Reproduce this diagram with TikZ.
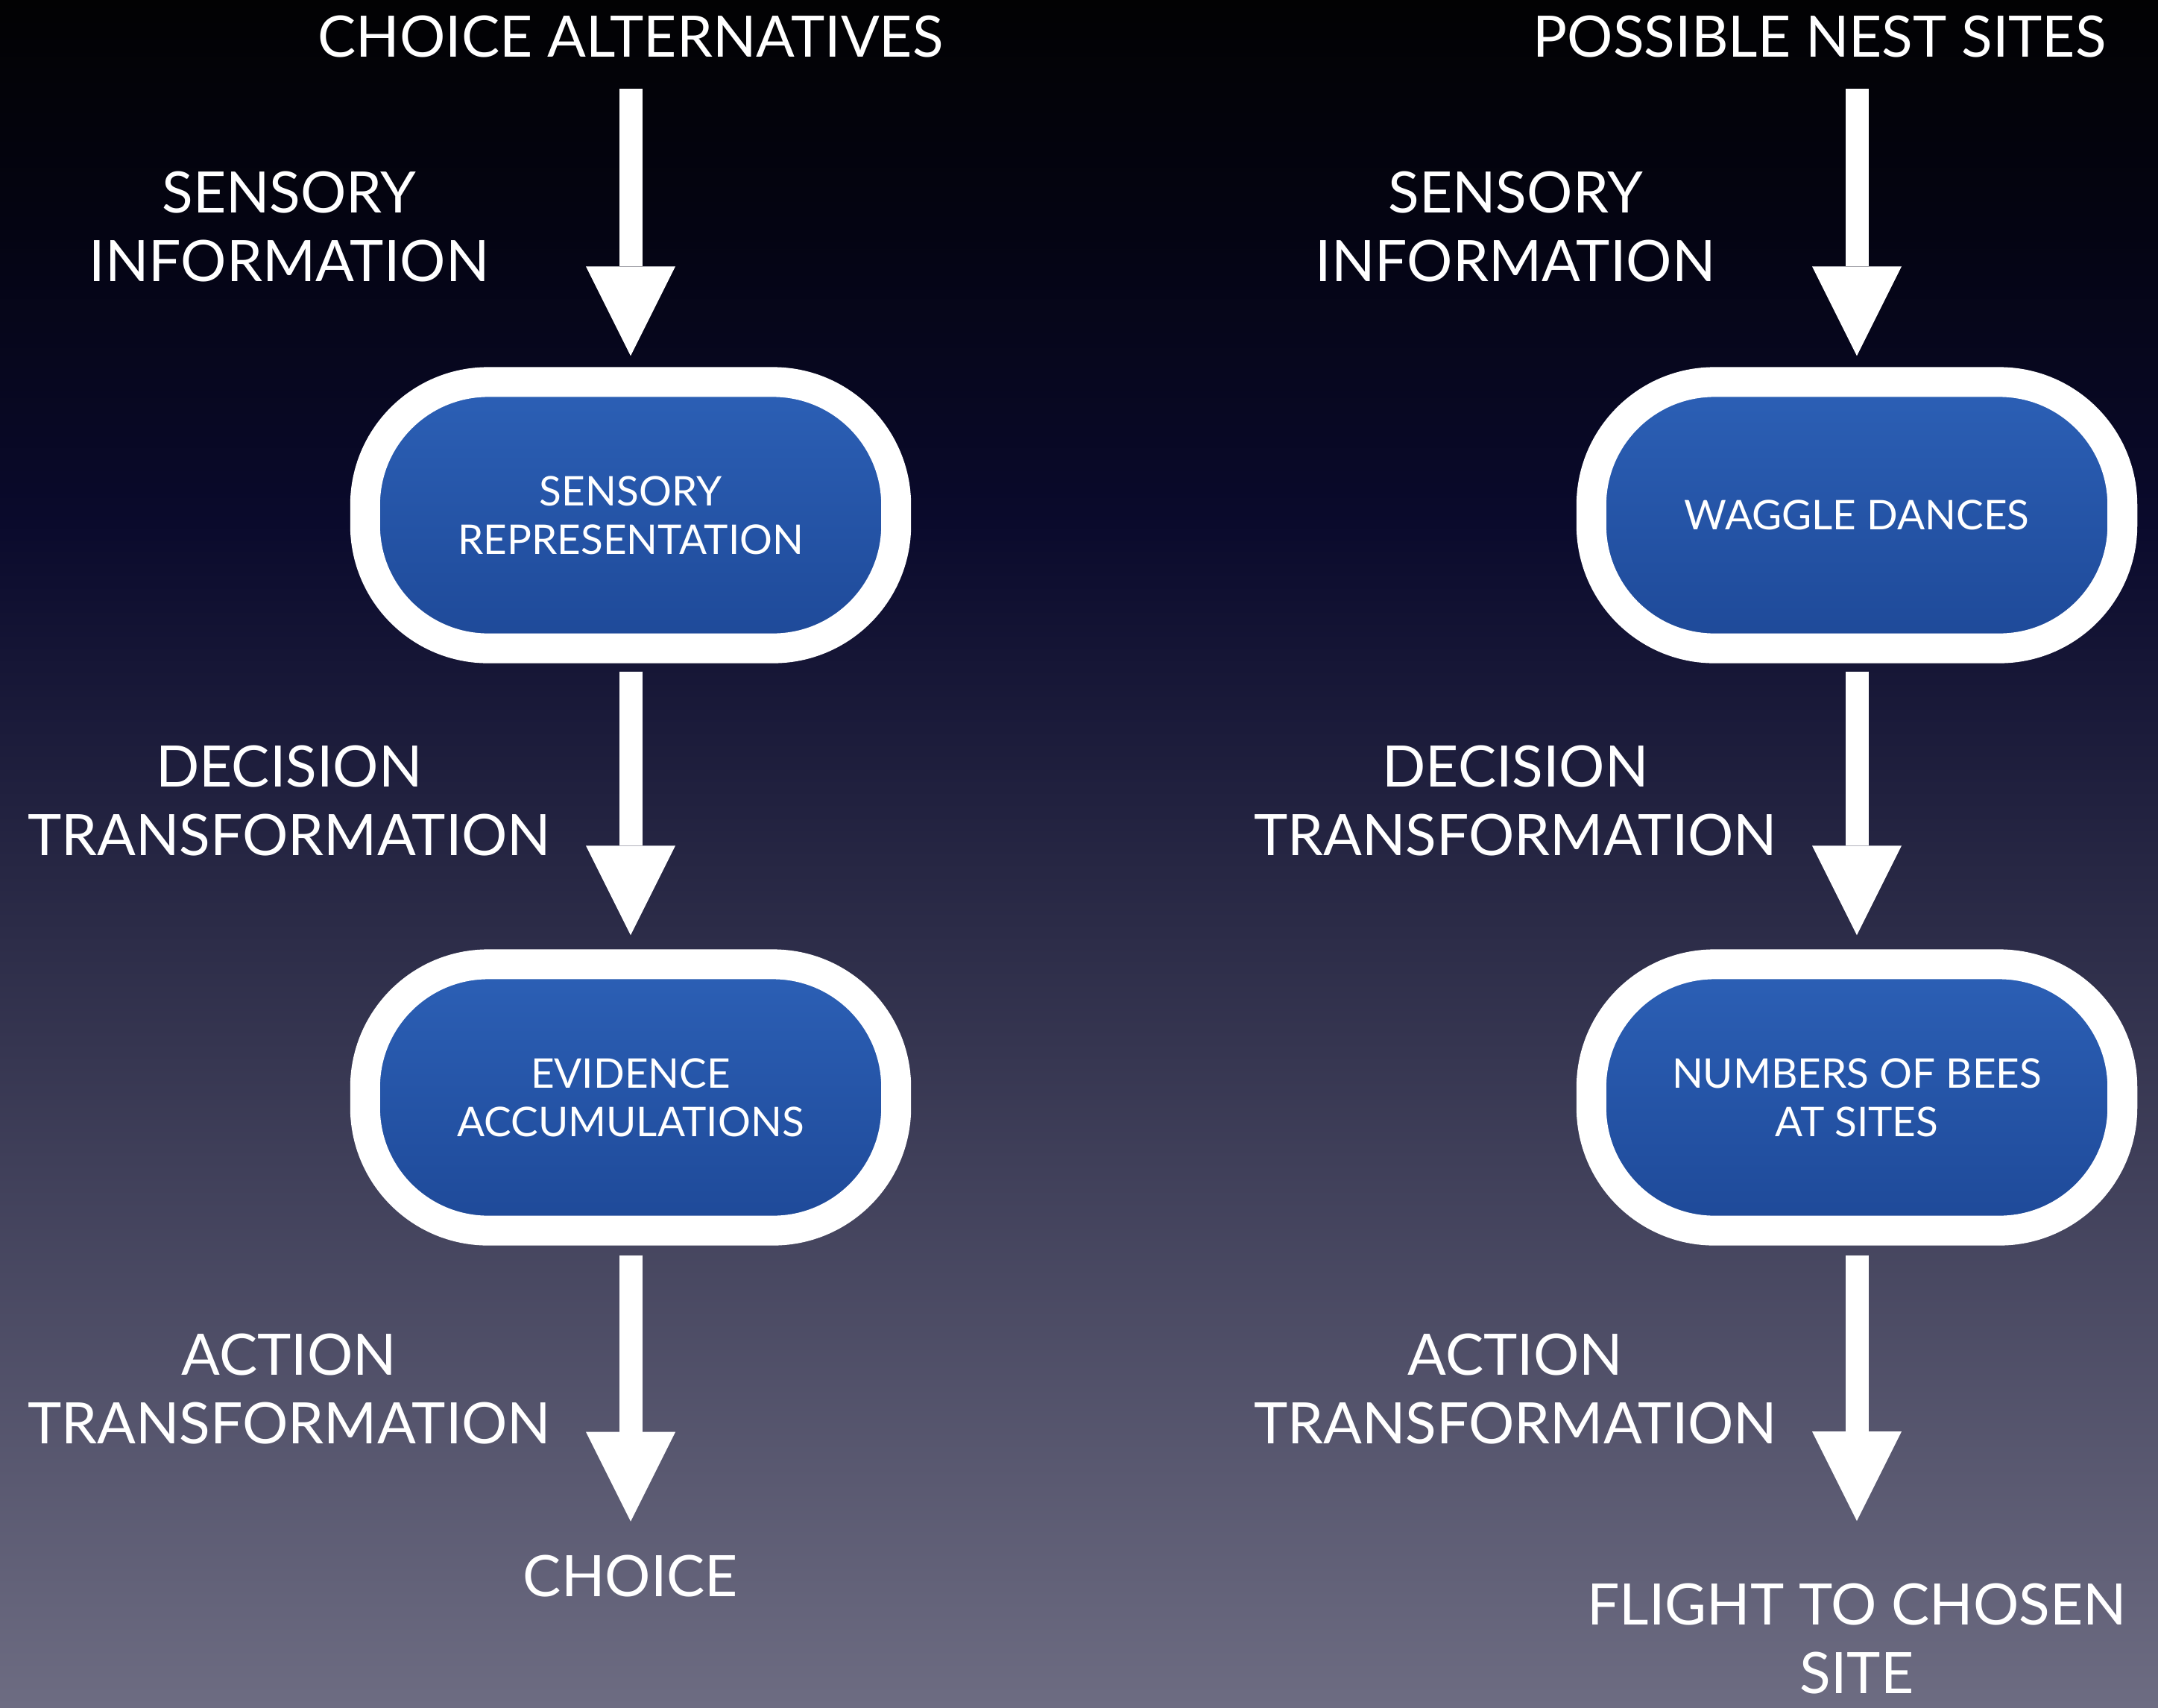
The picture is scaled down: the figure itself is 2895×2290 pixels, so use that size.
\documentclass[tikz,border=0pt]{standalone}
\usepackage{fontspec}
\setmainfont{Lato}
\usetikzlibrary{arrows.meta,positioning}
\definecolor{bg0}{HTML}{020203}
\definecolor{bg1}{HTML}{040412}
\definecolor{bg2}{HTML}{0A0A2C}
\definecolor{bg3}{HTML}{2C2C48}
\definecolor{bg4}{HTML}{6D6C82}
\definecolor{pilltop}{HTML}{2C60B6}
\definecolor{pillbot}{HTML}{1E4998}

\begin{document}
\begin{tikzpicture}[x=0.01cm, y=-0.01cm,
  lbl/.style={text=white, align=center, inner sep=0pt,
    font=\fontsize{21.8}{26.2}\selectfont},
  pill/.style={draw=white, line width=0.4cm, rounded corners=1.65cm,
    top color=pilltop, bottom color=pillbot,
    minimum width=7.12cm, minimum height=3.57cm,
    text=white, align=center, font=\fontsize{15.6}{18.5}\selectfont},
  flow/.style={white, line width=0.31cm,
    -{Triangle[width=1.2cm, length=1.2cm, line width=0pt]}}]

% BACKGROUND
\useasboundingbox (0,0) rectangle (2895,2290);
\shade[top color=bg0, bottom color=bg1] (0,0) rectangle (2895,301);
\shade[top color=bg1, bottom color=bg2] (0,300) rectangle (2895,701);
\shade[top color=bg2, bottom color=bg3] (0,700) rectangle (2895,1251);
\shade[top color=bg3, bottom color=bg4] (0,1250) rectangle (2895,2290);

% LEFT COLUMN: choice
\node[lbl, anchor=base] (altL) at (846,76) {CHOICE ALTERNATIVES};
\node[pill] (repL) at (846,691) {SENSORY\\REPRESENTATION};
\node[pill] (accL) at (846,1472) {EVIDENCE\\ACCUMULATIONS};
\node[lbl, anchor=base] (choiceL) at (846,2141) {CHOICE};

\node[lbl] (sensL) at (388,304) {SENSORY\\INFORMATION};
\node[lbl] (decL) at (388,1074) {DECISION\\TRANSFORMATION};
\node[lbl] (actL) at (388,1863) {ACTION\\TRANSFORMATION};

\draw[flow, shorten <=0.42cm, shorten >=0.15cm] (altL) -- (repL);
\draw[flow, shorten <=0.11cm, shorten >=0.19cm] (repL) -- (accL);
\draw[flow, shorten <=0.13cm, shorten >=0.44cm] (accL) -- (choiceL);

% RIGHT COLUMN: bees
\node[lbl, anchor=base] (altR) at (2441,76) {POSSIBLE NEST SITES};
\node[pill] (danceR) at (2491,691) {WAGGLE DANCES};
\node[pill] (beesR) at (2491,1472) {NUMBERS OF BEES\\AT SITES};
\node[lbl] (flightR) at (2491,2198) {FLIGHT TO CHOSEN\\SITE};

\node[lbl] (sensR) at (2033,304) {SENSORY\\INFORMATION};
\node[lbl] (decR) at (2033,1074) {DECISION\\TRANSFORMATION};
\node[lbl] (actR) at (2033,1863) {ACTION\\TRANSFORMATION};

\draw[flow, shorten <=0.42cm, shorten >=0.15cm] (altR.south -| danceR) -- (danceR);
\draw[flow, shorten <=0.11cm, shorten >=0.19cm] (danceR) -- (beesR);
\draw[flow, shorten <=0.13cm, shorten >=0.83cm] (beesR) -- (flightR);

\end{tikzpicture}
\end{document}
